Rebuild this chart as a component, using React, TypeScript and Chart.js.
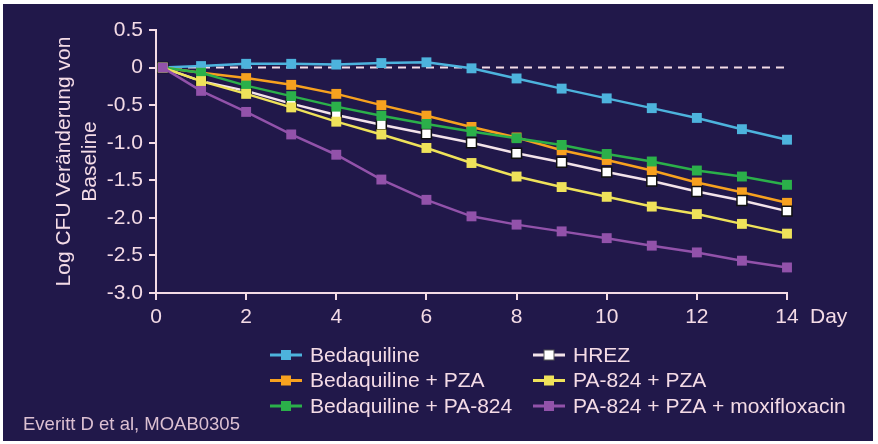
import React, { useEffect, useRef } from 'react';
import { Chart, registerables } from 'chart.js';

Chart.register(...registerables);

const days = [0.15, 1, 2, 3, 4, 5, 6, 7, 8, 9, 10, 11, 12, 13, 14];
const bedaquiline = [0, 0.02, 0.05, 0.05, 0.04, 0.06, 0.07, -0.01, -0.145, -0.28, -0.41, -0.54, -0.67, -0.82, -0.96];
const bedaquilinePZA = [0, -0.07, -0.14, -0.23, -0.35, -0.5, -0.64, -0.79, -0.93, -1.1, -1.23, -1.37, -1.53, -1.66, -1.8];
const bedaquilinePA824 = [0, -0.07, -0.24, -0.38, -0.52, -0.64, -0.75, -0.85, -0.94, -1.03, -1.15, -1.25, -1.37, -1.45, -1.56];
const hrez = [0, -0.18, -0.31, -0.48, -0.63, -0.76, -0.88, -1.0, -1.14, -1.26, -1.39, -1.51, -1.65, -1.77, -1.91];
const pa824PZA = [0, -0.18, -0.35, -0.53, -0.72, -0.89, -1.07, -1.27, -1.45, -1.59, -1.72, -1.85, -1.95, -2.08, -2.21];
const pa824PZAMoxi = [0, -0.31, -0.59, -0.89, -1.16, -1.49, -1.76, -1.98, -2.09, -2.18, -2.27, -2.37, -2.46, -2.57, -2.66];

const seriesNames = [
  'Bedaquiline',
  'Bedaquiline + PZA',
  'Bedaquiline + PA-824',
  'HREZ',
  'PA-824 + PZA',
  'PA-824 + PZA + moxifloxacin',
];
const yTitle = ['Log CFU Veränderung von', 'Baseline'];
const xUnit = 'Day';
const citation = 'Everitt D et al, MOAB0305';

const BG = '#21184a';
const FG = '#f4dbe6';
const FONT = "'Liberation Sans', Arial, sans-serif";

const colors = ['#4db3dd', '#f7a11f', '#2bb04a', '#ffffff', '#efe25a', '#9252aa'];
const lineColors = ['#4db3dd', '#f7a11f', '#2bb04a', '#f3e3ea', '#efe25a', '#9252aa'];
const borders = ['#4db3dd', '#f7a11f', '#2bb04a', '#111111', '#efe25a', '#9252aa'];
const drawOrder = [6, 5, 3, 4, 2, 1];

const seriesValues = [bedaquiline, bedaquilinePZA, bedaquilinePA824, hrez, pa824PZA, pa824PZAMoxi];

const overlay = {
  id: 'overlay',
  beforeDatasetsDraw(chart: any) {
    const { ctx, scales } = chart;
    const x = scales.x;
    const y = scales.y;
    ctx.save();
    ctx.setLineDash([8, 6]);
    ctx.strokeStyle = FG;
    ctx.lineWidth = 2;
    ctx.beginPath();
    ctx.moveTo(x.getPixelForValue(0) + 4, y.getPixelForValue(0));
    ctx.lineTo(x.getPixelForValue(14) + 2, y.getPixelForValue(0));
    ctx.stroke();
    ctx.restore();
  },
  afterDraw(chart: any) {
    const { ctx, scales } = chart;
    const x = scales.x;
    ctx.save();
    ctx.fillStyle = FG;
    ctx.font = `21px ${FONT}`;
    ctx.textBaseline = 'middle';
    ctx.textAlign = 'left';
    ctx.fillText(xUnit, x.getPixelForValue(14) + 23, 317);

    // legend
    const cols = [270, 533];
    const rows = [355, 380.5, 406];
    seriesNames.forEach((name, i) => {
      const cx = cols[Math.floor(i / 3)];
      const cy = rows[i % 3];
      ctx.strokeStyle = lineColors[i];
      ctx.lineWidth = 3;
      ctx.setLineDash([]);
      ctx.beginPath();
      ctx.moveTo(cx, cy);
      ctx.lineTo(cx + 32, cy);
      ctx.stroke();
      ctx.fillStyle = colors[i];
      ctx.fillRect(cx + 11, cy - 5, 10, 10);
      if (i === 3) {
        ctx.strokeStyle = '#555555';
        ctx.lineWidth = 1;
        ctx.strokeRect(cx + 11, cy - 5, 10, 10);
      }
      ctx.fillStyle = FG;
      ctx.font = `21px ${FONT}`;
      ctx.fillText(name, cx + 40, cy + 1);
    });

    ctx.fillStyle = '#dcc0d2';
    ctx.font = `18.5px ${FONT}`;
    ctx.fillText(citation, 23, 425);
    ctx.restore();
  },
};

export default function App() {
  const ref = useRef<HTMLCanvasElement | null>(null);

  useEffect(() => {
    if (!ref.current) return;
    const datasets = seriesNames.map((name, i) => ({
      label: name,
      data: days.map((d, j) => ({ x: d, y: seriesValues[i][j] })),
      borderColor: lineColors[i],
      backgroundColor: colors[i],
      pointBackgroundColor: colors[i],
      pointBorderColor: borders[i],
      pointBorderWidth: i === 3 ? 1.5 : 0,
      pointStyle: 'rect',
      pointRadius: 7,
      pointHoverRadius: 7,
      borderWidth: 2.5,
      tension: 0,
      order: drawOrder[i],
      clip: false as any,
    }));

    const chart = new Chart(ref.current, {
      type: 'line',
      data: { datasets },
      plugins: [overlay],
      options: {
        animation: false,
        responsive: false,
        layout: { padding: { left: 0, top: 30, right: 91, bottom: 111 } },
        plugins: { legend: { display: false }, tooltip: { enabled: false } },
        scales: {
          x: {
            type: 'linear',
            min: 0,
            max: 14,
            afterFit: (s: any) => {
              s.height = 40;
            },
            ticks: {
              stepSize: 2,
              color: FG,
              font: { family: FONT, size: 21 },
              padding: 5,
              maxRotation: 0,
            },
            grid: {
              drawOnChartArea: false,
              drawTicks: true,
              tickLength: 7,
              color: FG,
              lineWidth: 2,
            },
            border: { display: true, color: FG, width: 2 },
          },
          y: {
            type: 'linear',
            min: -3,
            max: 0.5,
            afterFit: (s: any) => {
              s.width = 156;
            },
            ticks: {
              stepSize: 0.5,
              color: FG,
              font: { family: FONT, size: 21 },
              padding: 6,
              callback: (v: any) => (Number(v) === 0 ? '0' : Number(v).toFixed(1)),
            },
            grid: {
              drawOnChartArea: false,
              drawTicks: true,
              tickLength: 7,
              color: FG,
              lineWidth: 2,
            },
            border: { display: true, color: FG, width: 2 },
            title: {
              display: true,
              text: yTitle,
              color: FG,
              font: { family: FONT, size: 21, lineHeight: 1.2 },
              padding: { top: 52, bottom: 0 },
            },
          },
        },
      },
    });
    return () => chart.destroy();
  }, []);

  return (
    <div style={{ position: 'fixed', left: 0, top: 0, width: 878, height: 444, background: '#ffffff' }}>
      <div style={{ position: 'absolute', left: 3, top: 4, width: 870, height: 437, background: BG }} />
      <canvas ref={ref} width={878} height={444} style={{ position: 'absolute', left: 0, top: 0, width: 878, height: 444 }} />
    </div>
  );
}
